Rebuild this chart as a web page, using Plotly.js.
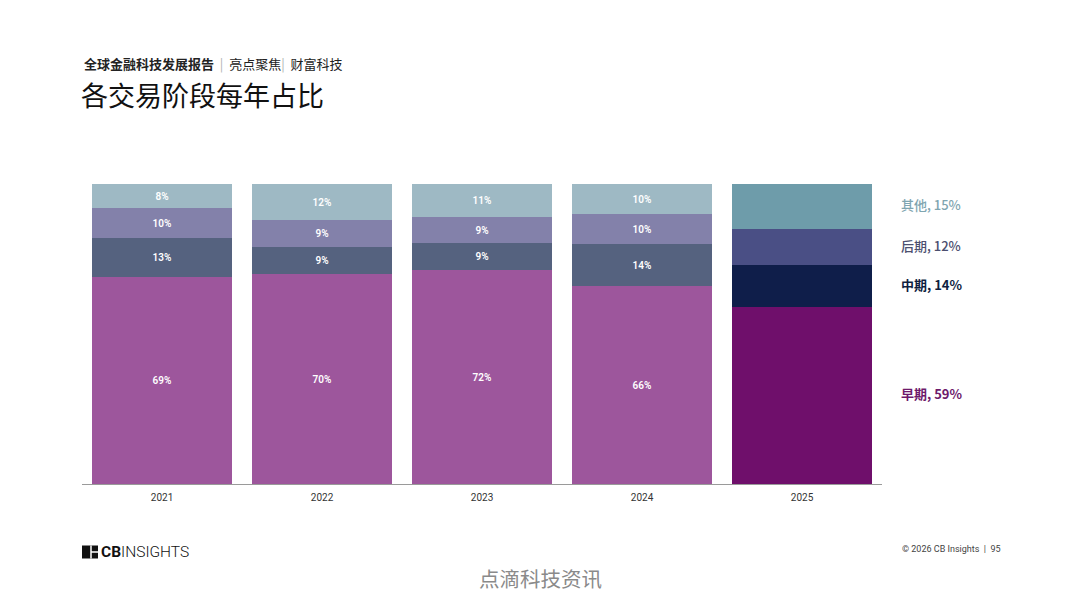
<!DOCTYPE html>
<html>
<head>
<meta charset="utf-8">
<script src="https://cdn.plot.ly/plotly-3.0.1.min.js"></script>
<style>html,body{margin:0;padding:0;background:#fff;}#chart{width:1080px;height:608px;}</style>
</head>
<body>
<div id="chart"></div>
<script>
const years = ['2021', '2022', '2023', '2024', '2025'];
const early = [69, 70, 72, 66, 59];
const mid = [13, 9, 9, 14, 14];
const late = [10, 9, 9, 10, 12];
const other = [8, 12, 11, 10, 15];
const stageNames = ['早期', '中期', '后期', '其他'];

const series = [early, mid, late, other];
const pastColors = ['#9D569C', '#55627F', '#8381AA', '#9EB9C4'];
const lastColors = ['#6F0F6B', '#0F1E4A', '#4A4F85', '#6E9CAA'];
const labelColors = ['#6E1A6B', '#0F1E3F', '#4C4F6F', '#7FA5B0'];
const labelWeights = [600, 700, 500, 500];

const FONT = 'Roboto, "Noto Sans CJK SC", sans-serif';
const CJK = '"Noto Sans CJK SC", Roboto, sans-serif';

const traces = series.map((vals, i) => ({
  type: 'bar',
  x: years,
  y: vals,
  name: stageNames[i],
  marker: {
    color: years.map((y, j) => j === years.length - 1 ? lastColors[i] : pastColors[i]),
    line: {width: 0}
  },
  text: vals.map((v, j) => j === years.length - 1 ? '' : v + '%'),
  textposition: 'inside',
  insidetextanchor: 'middle',
  textangle: 0,
  textfont: {family: FONT, size: 10, color: '#ffffff', weight: 600},
  hoverinfo: 'skip'
}));

// right-side labels for the last year, placed at segment midpoints
const lastIdx = years.length - 1;
const lastTotal = series.reduce((s, arr) => s + arr[lastIdx], 0);
let cum = 0;
const annotations = [];
series.forEach((arr, i) => {
  const v = arr[lastIdx];
  const midY = (cum + v / 2) / lastTotal * 100;
  cum += v;
  annotations.push({
    xref: 'paper', yref: 'y', x: (899 - 82) / 800, y: midY, yshift: 2,
    xanchor: 'left', yanchor: 'middle', showarrow: false,
    text: stageNames[i] + ', ' + v + '%',
    font: {family: CJK, size: 13, color: labelColors[i], weight: labelWeights[i]}
  });
});

// header line
annotations.push({
  xref: 'paper', yref: 'paper', x: 0, y: (484 - 63) / 300,
  xanchor: 'left', yanchor: 'middle', showarrow: false,
  text: '<b>全球金融科技发展报告</b>&nbsp;&nbsp;<span style="color:#b0b0b0">|</span>&nbsp;&nbsp;亮点聚焦<span style="color:#b0b0b0">|</span>&nbsp;&nbsp;财富科技',
  font: {family: CJK, size: 13, color: '#222'}
});
// logo text
annotations.push({
  xref: 'paper', yref: 'paper', x: (99 - 82) / 800, y: (484 - 552) / 300,
  xanchor: 'left', yanchor: 'middle', showarrow: false,
  text: '<b>CB</b>INSIGHTS',
  font: {family: FONT, size: 15.5, color: '#111', weight: 300}
});
// copyright
annotations.push({
  xref: 'paper', yref: 'paper', x: (1003 - 82) / 800, y: (484 - 549) / 300,
  xanchor: 'right', yanchor: 'middle', showarrow: false,
  text: '© 2026 CB Insights  |  95',
  font: {family: FONT, size: 9, color: '#444'}
});
// watermark
annotations.push({
  xref: 'paper', yref: 'paper', x: (540 - 82) / 800, y: (484 - 578) / 300,
  xanchor: 'center', yanchor: 'middle', showarrow: false,
  text: '点滴科技资讯',
  font: {family: CJK, size: 20.5, color: '#8a8a8a'}
});

const px = v => (v - 82) / 800;
const py = v => (484 - v) / 300;
const shapes = [
  {type: 'rect', xref: 'paper', yref: 'paper', x0: px(82), x1: px(98), y0: py(558.5), y1: py(545.5),
   fillcolor: '#111', line: {width: 0}},
  {type: 'line', xref: 'paper', yref: 'paper', x0: px(91), x1: px(91), y0: py(558.5), y1: py(545.5),
   line: {color: '#fff', width: 1.5}},
  {type: 'line', xref: 'paper', yref: 'paper', x0: px(91), x1: px(98), y0: py(552), y1: py(552),
   line: {color: '#fff', width: 1.5}}
];

const layout = {
  width: 1080, height: 608,
  margin: {l: 82, r: 198, t: 184, b: 124},
  paper_bgcolor: '#ffffff', plot_bgcolor: '#ffffff',
  barmode: 'stack', barnorm: 'percent', bargap: 0.13,
  showlegend: false,
  title: {
    text: '各交易阶段每年占比',
    xref: 'container', yref: 'container',
    x: 81 / 1080, xanchor: 'left', y: 1 - 97 / 608, yanchor: 'middle',
    font: {family: CJK, size: 27, color: '#111', weight: 400}
  },
  xaxis: {
    type: 'category', showline: true, linecolor: '#9a9a9a', linewidth: 1,
    ticks: '', showgrid: false, zeroline: false,
    tickfont: {family: FONT, size: 10, color: '#333'}, ticklabelstandoff: 4
  },
  yaxis: {range: [0, 100], visible: false, showgrid: false, zeroline: false, fixedrange: true},
  annotations: annotations,
  shapes: shapes,
  uniformtext: {mode: 'show', minsize: 8}
};

Plotly.newPlot('chart', traces, layout, {displayModeBar: false, staticPlot: true});
</script>
</body>
</html>
